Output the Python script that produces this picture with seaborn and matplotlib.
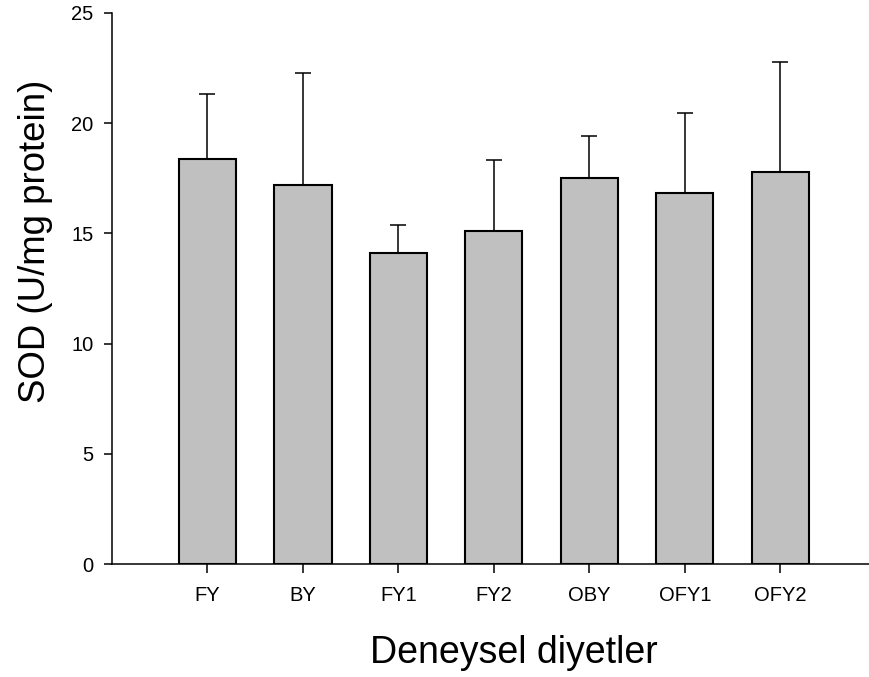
import matplotlib
matplotlib.use("Agg")
import matplotlib.pyplot as plt
import seaborn as sns
import pandas as pd

categories = ["FY", "BY", "FY1", "FY2", "OBY", "OFY1", "OFY2"]
means = [18.36, 17.20, 14.11, 15.12, 17.53, 16.82, 17.80]
upper_err = [2.98, 5.09, 1.27, 3.21, 1.90, 3.66, 4.98]
y_ticks = [0, 5, 10, 15, 20, 25]

sns.set_style("ticks")
plt.rcParams["font.family"] = ["Liberation Sans", "DejaVu Sans"]

df = pd.DataFrame({"diet": categories, "sod": means})

fig = plt.figure(figsize=(8.69, 6.77), dpi=100)
ax = fig.add_axes([112 / 869, 1 - 564 / 677, 757 / 869, 551 / 677])

sns.barplot(data=df, x="diet", y="sod", order=categories, color="#C0C0C0",
            saturation=1, edgecolor="black", linewidth=1.5, width=0.6,
            errorbar=None, ax=ax, zorder=3)

xs = [p.get_x() + p.get_width() / 2 for p in ax.patches]
ax.errorbar(xs, means, yerr=[[0] * len(means), upper_err], fmt="none",
            ecolor="black", elinewidth=1.1, capsize=6, capthick=1.1, zorder=2)

ax.set_xlim(-1, 6.93)
ax.set_ylim(0, 25)
ax.set_yticks(y_ticks)
ax.set_yticklabels([str(t) for t in y_ticks])

for s in ["top", "right"]:
    ax.spines[s].set_visible(False)
for s in ["left", "bottom"]:
    ax.spines[s].set_linewidth(1.1)
    ax.spines[s].set_color("black")

ax.tick_params(axis="y", direction="out", length=5.8, width=1.1, pad=7.5,
               labelsize=14.5, colors="black")
ax.tick_params(axis="x", direction="out", length=6.5, width=1.1, pad=9,
               labelsize=14.5, colors="black")

ax.set_xlabel("Deneysel diyetler", fontsize=27, color="black")
ax.xaxis.set_label_coords(0.531, -0.1797)
ax.xaxis.label.set_va("baseline")

ax.set_ylabel("SOD (U/mg protein)", fontsize=26.4, color="black")
ax.yaxis.set_label_coords(-0.0885, 0.585)
ax.yaxis.label.set_va("baseline")

fig.savefig("out.png", dpi=100)
